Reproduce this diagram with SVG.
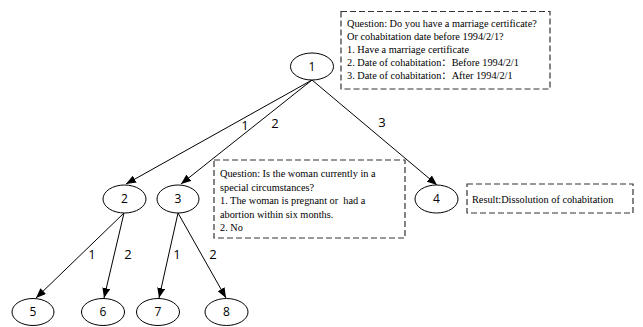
<svg xmlns="http://www.w3.org/2000/svg" width="643" height="327" viewBox="0 0 643 327">
<defs>
<style>
.node ellipse{fill:#fff;stroke:#000;stroke-width:1}
.node text{font-family:"Open Sans","Liberation Sans",sans-serif;font-size:12px;text-anchor:middle;fill:#000}
.edge{stroke:#000;stroke-width:1;fill:none;marker-end:url(#arr)}
.elabel{font-family:"Open Sans","Liberation Sans",sans-serif;font-size:13px;text-anchor:middle;fill:#000}
.box rect{fill:#fff;stroke:#333;stroke-width:1.2;stroke-dasharray:6 3}
.box text{font-family:"Liberation Serif","Noto Sans CJK SC",serif;font-size:10.3px;fill:#000;white-space:pre}
</style>
<marker id="arr" viewBox="0 0 10 8" refX="10" refY="4" markerWidth="10" markerHeight="8" markerUnits="userSpaceOnUse" orient="auto">
<path d="M0,0 L10,4 L0,8 z" fill="#000"/>
</marker>
</defs>
<g id="connectors">
<line class="edge" x1="312" y1="80" x2="126" y2="184"/>
<line class="edge" x1="312" y1="80" x2="181" y2="184"/>
<line class="edge" x1="312" y1="80" x2="437" y2="185"/>
<line class="edge" x1="124" y1="213" x2="36" y2="298"/>
<line class="edge" x1="124" y1="213" x2="104" y2="298"/>
<line class="edge" x1="178" y1="213" x2="159" y2="298"/>
<line class="edge" x1="178" y1="213" x2="226" y2="298"/>
<text class="elabel" x="245" y="130">1</text>
<text class="elabel" x="275" y="128">2</text>
<text class="elabel" x="382" y="127">3</text>
<text class="elabel" x="92" y="259">1</text>
<text class="elabel" x="128" y="259">2</text>
<text class="elabel" x="177" y="259">1</text>
<text class="elabel" x="213" y="259">2</text>
</g>
<g id="node1" class="node"><ellipse cx="312" cy="66.5" rx="21.5" ry="13.5"/><text x="312" y="70.5">1</text></g>
<g id="node2" class="node"><ellipse cx="124.5" cy="199" rx="21.5" ry="14"/><text x="124.5" y="203">2</text></g>
<g id="node3" class="node"><ellipse cx="178" cy="199" rx="21" ry="14"/><text x="178" y="203">3</text></g>
<g id="node4" class="node"><ellipse cx="436.5" cy="199" rx="21.5" ry="14"/><text x="436.5" y="203">4</text></g>
<g id="node5" class="node"><ellipse cx="33" cy="312" rx="21" ry="13.5"/><text x="33" y="316">5</text></g>
<g id="node6" class="node"><ellipse cx="103" cy="312" rx="21.5" ry="13.5"/><text x="103" y="316">6</text></g>
<g id="node7" class="node"><ellipse cx="158" cy="312" rx="21.5" ry="13.5"/><text x="158" y="316">7</text></g>
<g id="node8" class="node"><ellipse cx="226.5" cy="312" rx="21.5" ry="13.5"/><text x="226.5" y="316">8</text></g>
<g id="box-q1" class="box">
<rect x="341" y="11.5" width="209" height="77.5"/>
<text x="347" y="27">Question: Do you have a marriage certificate?</text>
<text x="347" y="40">Or cohabitation date before 1994/2/1?</text>
<text x="347" y="53">1. Have a marriage certificate</text>
<text x="347" y="66">2. Date of cohabitation：Before 1994/2/1</text>
<text x="347" y="79">3. Date of cohabitation：After 1994/2/1</text>
</g>
<g id="box-q2" class="box">
<rect x="214" y="160" width="191" height="78"/>
<text x="220" y="177">Question: Is the woman currently in a</text>
<text x="220" y="190.5">special circumstances?</text>
<text x="220" y="204">1. The woman is pregnant or  had a</text>
<text x="220" y="217.5">abortion within six months.</text>
<text x="220" y="231">2. No</text>
</g>
<g id="box-result" class="box">
<rect x="467" y="184" width="166" height="29"/>
<text x="472" y="203">Result:Dissolution of cohabitation</text>
</g>
</svg>
